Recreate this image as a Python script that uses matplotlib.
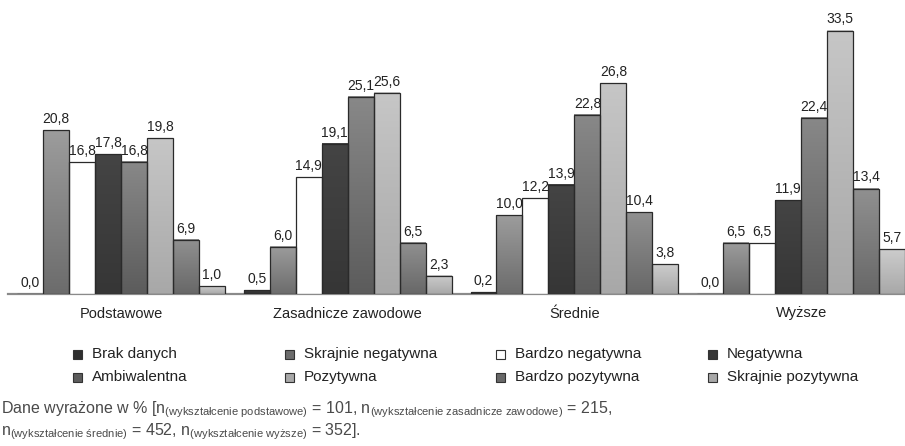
import numpy as np
import matplotlib
matplotlib.use("Agg")
import matplotlib.pyplot as plt
from matplotlib.colors import LinearSegmentedColormap
from matplotlib.patches import Rectangle

plt.rcParams['font.family'] = ['Liberation Sans', 'DejaVu Sans']
plt.rcParams['mathtext.fontset'] = 'custom'
plt.rcParams['mathtext.rm'] = 'Liberation Sans'
plt.rcParams['mathtext.it'] = 'Liberation Sans'

groups = ['Podstawowe', 'Zasadnicze zawodowe', 'Średnie', 'Wyższe']
series = ['Brak danych', 'Skrajnie negatywna', 'Bardzo negatywna', 'Negatywna',
          'Ambiwalentna', 'Pozytywna', 'Bardzo pozytywna', 'Skrajnie pozytywna']
brak = [0.0, 0.5, 0.2, 0.0]
skr_neg = [20.8, 6.0, 10.0, 6.5]
bardzo_neg = [16.8, 14.9, 12.2, 6.5]
neg = [17.8, 19.1, 13.9, 11.9]
ambiw = [16.8, 25.1, 22.8, 22.4]
poz = [19.8, 25.6, 26.8, 33.5]
bardzo_poz = [6.9, 6.5, 10.4, 13.4]
skr_poz = [1.0, 2.3, 3.8, 5.7]
values = [brak, skr_neg, bardzo_neg, neg, ambiw, poz, bardzo_poz, skr_poz]

# (top colour, bottom colour) of the vertical gradient
grads = [('#3c3c3c', '#2e2e2e'), ('#9c9c9c', '#6c6c6c'), ('#ffffff', '#ffffff'),
         ('#444444', '#363636'), ('#888888', '#5c5c5c'), ('#c6c6c6', '#a8a8a8'),
         ('#909090', '#686868'), ('#cccccc', '#a8a8a8')]

W, H = 905, 446
fig = plt.figure(figsize=(W / 100, H / 100), dpi=100)
ax = fig.add_axes([8 / W, 1 - 294 / H, 1 - 8 / W, 294 / H])

n = len(series)
gstep = 8.73
centers = np.arange(len(groups)) * gstep
ramp = np.linspace(0, 1, 64).reshape(-1, 1)

for i, (name, vals) in enumerate(zip(series, values)):
    xs = centers + (i - (n - 1) / 2)
    bars = ax.bar(xs, vals, width=1.0, facecolor='none', edgecolor='#2a2a2a',
                  linewidth=0.9, zorder=3)
    cmap = LinearSegmentedColormap.from_list(name, [grads[i][1], grads[i][0]])
    for b in bars:
        x0, h = b.get_x(), b.get_height()
        ax.imshow(ramp, extent=[x0, x0 + b.get_width(), 0, h], origin='lower',
                  cmap=cmap, aspect='auto', zorder=2, interpolation='bilinear')
    ax.bar_label(bars, labels=[f'{v:.1f}'.replace('.', ',') for v in vals],
                 padding=3, fontsize=10, color='#222222')

ax.set_xlim(centers[0] - 4.35, centers[-1] + 4.0)
ax.set_ylim(0, 37.4)
ax.set_xticks(centers)
ax.set_xticklabels(groups, fontsize=10.5, color='#222222')
ax.tick_params(axis='x', length=0, pad=9)
ax.set_yticks([])
for s in ['top', 'left', 'right']:
    ax.spines[s].set_visible(False)
ax.spines['bottom'].set_color('#8a8a8a')
ax.spines['bottom'].set_linewidth(1.6)
ax.spines['bottom'].set_zorder(1)

# legend, 4 equal columns x 2 rows
for k, name in enumerate(series):
    col, row = k % 4, k // 4
    px, py = 73 + col * 211.5, 354 + row * 23
    top, bot = grads[k]
    fig.add_artist(Rectangle((px / W, 1 - (py + 4.5) / H), 9 / W, 9 / H,
                             transform=fig.transFigure,
                             facecolor=bot if k != 2 else 'white',
                             edgecolor='#333333', linewidth=0.8))
    fig.text((px + 19) / W, 1 - py / H, name, fontsize=11, va='center',
             ha='left', color='#222222')

foot1 = (r'Dane wyrażone w % [n$_{\mathrm{(wykształcenie\ podstawowe)}}$ = 101, '
         r'n$_{\mathrm{(wykształcenie\ zasadnicze\ zawodowe)}}$ = 215,')
foot2 = (r'n$_{\mathrm{(wykształcenie\ średnie)}}$ = 452, '
         r'n$_{\mathrm{(wykształcenie\ wyższe)}}$ = 352].')
fig.text(1 / W, 1 - 410 / H, foot1, fontsize=11.5, va='center', ha='left',
         color='#4a4a4a')
fig.text(1 / W, 1 - 432 / H, foot2, fontsize=11.5, va='center', ha='left',
         color='#4a4a4a')

fig.savefig('out.png', dpi=100)
